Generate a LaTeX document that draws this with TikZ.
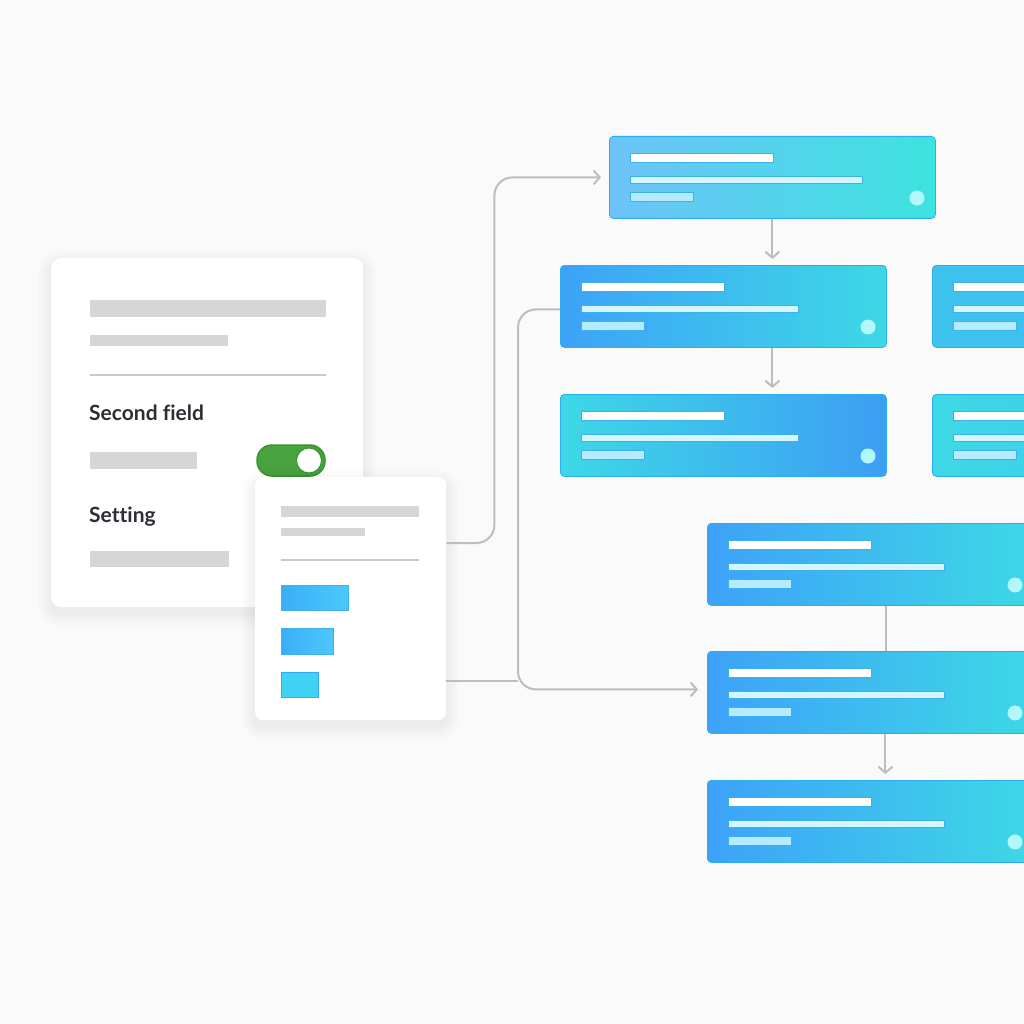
\documentclass[tikz,border=0pt]{standalone}
\usepackage{fontspec}
\setmainfont{Lato}[Ligatures=NoCommon]
\usetikzlibrary{calc,arrows.meta}
\definecolor{canvas}{HTML}{FAFAFA}
\definecolor{skelgray}{HTML}{D6D6D6}
\definecolor{rulegray}{HTML}{C9C9C9}
\definecolor{connline}{HTML}{BDBDBD}
\definecolor{labeltext}{HTML}{2C3035}
\definecolor{togglegreen}{HTML}{47A23F}
\definecolor{toggleedge}{HTML}{3A9332}
\definecolor{boxedge}{HTML}{2AAEF0}
\definecolor{barlight}{HTML}{D4F6FF}
\definecolor{barpale}{HTML}{B6EAFF}
\definecolor{baredge}{HTML}{3FB0EE}
\definecolor{dotcyan}{HTML}{B2F7FA}
\definecolor{skyA}{HTML}{6DC3F9}
\definecolor{tealA}{HTML}{3DE3DF}
\definecolor{blueB}{HTML}{3DA2F8}
\definecolor{cyanB}{HTML}{3DD8E6}
\definecolor{blueC}{HTML}{3D9EF4}
\definecolor{chipA}{HTML}{3AAEF9}
\definecolor{chipB}{HTML}{4CC8FB}
\definecolor{chipC}{HTML}{40D2F3}
\tikzstyle{panel}=[fill=white,rounded corners=10pt,anchor=north west,inner sep=0pt]
\tikzstyle{haze}=[fill=black,opacity=0.005]
\tikzstyle{flowbox}=[draw=boxedge,line width=0.8pt,rounded corners=4pt,anchor=north west,inner sep=0pt,minimum width=326pt,minimum height=82pt]
\tikzstyle{skel}=[fill=skelgray]
\tikzstyle{chip}=[draw=baredge,line width=0.6pt]
\tikzstyle{barline}=[draw=baredge,line width=0.4pt]
\tikzstyle{conn}=[draw=connline,line width=2pt]
\tikzstyle{flowarrow}=[conn,-{Straight Barb[length=6pt,width=14pt]}]
\tikzstyle{fieldlabel}=[anchor=base west,inner sep=0pt,text=labeltext,font=\fontsize{21}{25}\selectfont\bfseries]

\begin{document}
\begin{tikzpicture}[x=1pt,y=-1pt]
    \useasboundingbox (0,0) rectangle (1024,1024);
    \clip (0,0) rectangle (1024,1024);
    \fill[canvas] (0,0) rectangle (1024,1024);
    % soft shadows under the cards
    \foreach \s in {1,...,14} {
        \fill[haze,rounded corners=10pt+\s pt] (51-\s,258-\s+6) rectangle (363+\s,607+\s+6);
    }
    % settings card
        \node[panel,minimum width=312pt,minimum height=349pt] (settings) at (51,258) {};
        \fill[skel] (90,300) rectangle (326,317);
        \fill[skel] (90,335) rectangle (228,346);
        \draw[rulegray,line width=1.5pt] (90,375) -- (326,375);
        \node[fieldlabel] (second) at (89,420) {Second field};
        \fill[skel] (90,452) rectangle (197,469);
        \node[draw=toggleedge,fill=togglegreen,line width=1.5pt,rounded corners=15pt,minimum width=68pt,minimum height=31pt] (switch) at (291,460.5) {};
        \node[circle,draw=toggleedge,fill=white,line width=1pt,minimum size=25pt,inner sep=0pt] (knob) at (309,460.5) {};
        \node[fieldlabel] (setting) at (89,522) {Setting};
        \fill[skel] (90,551) rectangle (229,567);
    \foreach \s in {1,...,14} {
        \fill[haze,rounded corners=8pt+\s pt] (255-\s,477-\s+6) rectangle (446+\s,720+\s+6);
    }
    % dropdown card
        \node[panel,rounded corners=8pt,minimum width=191pt,minimum height=243pt] (menu) at (255,477) {};
        \fill[skel] (281,506) rectangle (419,517);
        \fill[skel] (281,528) rectangle (365,536);
        \draw[rulegray,line width=1.5pt] (281,560) -- (419,560);
        \draw[chip,left color=chipA,right color=chipB] (281,585) rectangle (348,610);
        \draw[chip,left color=chipA,right color=chipB] (281,628) rectangle (333,654);
        \draw[chip,draw=chipC!80!blue,fill=chipC] (281,672) rectangle (318,697);
    % flow boxes
        \node[flowbox,left color=skyA,right color=tealA] (b1) at (609,136) {};
        \node[flowbox,left color=blueB,right color=cyanB] (b2) at (560,265) {};
        \node[flowbox,left color=cyanB,right color=blueC] (b3) at (560,394) {};
        \node[flowbox,left color=cyanB!60!blueB,right color=blueB!50!cyanB] (b2r) at (932,265) {};
        \node[flowbox,left color=cyanB,right color=cyanB!70!blueB] (b3r) at (932,394) {};
        \node[flowbox,left color=blueB,right color=cyanB] (b4) at (707,523) {};
        \node[flowbox,left color=blueB,right color=cyanB] (b5) at (707,651) {};
        \node[flowbox,left color=blueB,right color=cyanB] (b6) at (707,780) {};
        \foreach \b/\w in {b1/232,b2/217,b3/217,b2r/217,b3r/217,b4/216,b5/216,b6/216} {
            \draw[barline,fill=white] ($(\b.north west)+(21,17)$) rectangle ++(143,9);
            \draw[barline,fill=barlight] ($(\b.north west)+(21,40)$) rectangle ++(\w,7);
            \draw[barline,fill=barpale] ($(\b.north west)+(21,56)$) rectangle ++(63,9);
            \fill[dotcyan] ($(\b.north west)+(308,62)$) circle (7.5);
        }
    % connectors
        \draw[flowarrow,rounded corners=18pt] ($(menu.north east)+(0,66)$) -- ++(48,0) |- ([xshift=-8pt]b1.west);
        \draw[flowarrow,rounded corners=18pt] ([yshift=-3pt]b2.west) -- ++(-42,0) |- ([xshift=-9pt,yshift=3pt]b5.west);
        \draw[conn] ($(menu.north east)+(0,204)$) -- ++(72,0);
        \draw[flowarrow,shorten >=6pt] (b1.south) -- (b1.south |- b2.north);
        \draw[flowarrow,shorten >=6pt] (b1.south |- b2.south) -- (b1.south |- b3.north);
        \draw[conn] ([xshift=16pt]b4.south) -- ([xshift=16pt]b5.north);
        \draw[flowarrow,shorten >=6pt] ([xshift=15pt]b5.south) -- ([xshift=15pt]b6.north);
\end{tikzpicture}
\end{document}
